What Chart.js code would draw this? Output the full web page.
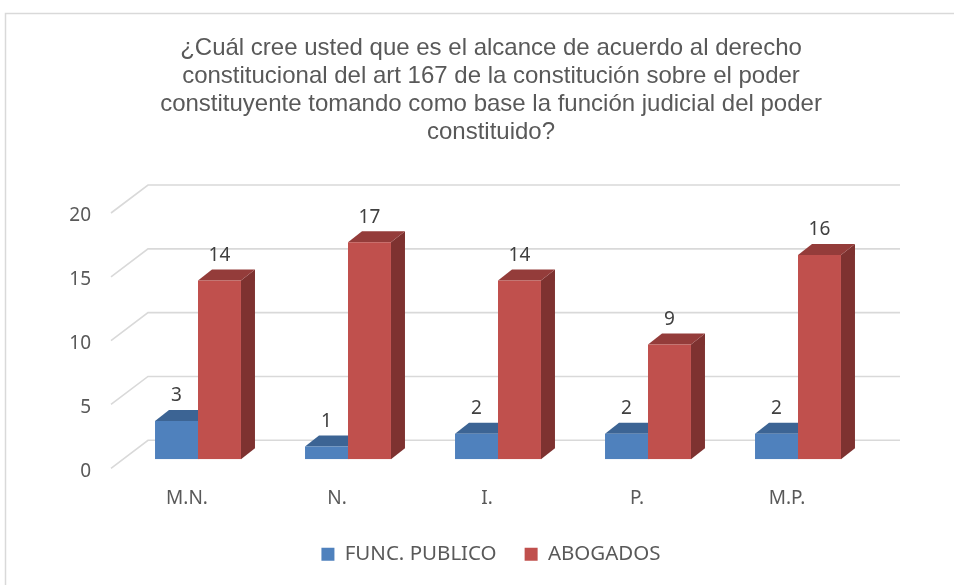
<!DOCTYPE html>
<html lang="es">
<head>
    <meta charset="UTF-8">
    <title>Alcance del art 167</title>
    <script src="https://cdn.jsdelivr.net/npm/chart.js@4"></script>
    <style>
        body { margin: 0; background: #fff; overflow: hidden; }
        #wrap { position: relative; width: 954px; height: 585px; }
    </style>
</head>
<body>
    <div id="wrap">
        <canvas id="chart"></canvas>
    </div>

    <script>
// datos
const categories = ['M.N.', 'N.', 'I.', 'P.', 'M.P.'];
const funcPublico = [3, 1, 2, 2, 2];
const abogados = [14, 17, 14, 9, 16];
const yTicks = [0, 5, 10, 15, 20];
const titleLines = [
    '¿Cuál cree usted que es el alcance de acuerdo al derecho',
    'constitucional del art 167 de la constitución sobre el poder',
    'constituyente tomando como base la función judicial del poder',
    'constituido?'
];

// colores de las caras (frente, arriba, lado)
const faces = [
    { front: '#4F81BD', top: '#3C6494', side: '#2F4F77' },
    { front: '#C0504D', top: '#943C3A', side: '#7E3230' }
];

const DX = 14, DY = 11;   // profundidad de las barras

// rejilla de fondo y caras laterales / superiores
const pseudo3d = {
    id: 'pseudo3d',
    beforeDraw(chart) {
        const ctx = chart.ctx;
        ctx.save();
        ctx.strokeStyle = '#D9D9D9';
        ctx.lineWidth = 1.5;
        ctx.strokeRect(5.5, 13.5, 960, 600);
        ctx.restore();
    },
    beforeDatasetsDraw(chart) {
        const ctx = chart.ctx;
        const area = chart.chartArea;
        const ys = chart.scales.y;
        ctx.save();
        ctx.strokeStyle = '#D9D9D9';
        ctx.lineWidth = 1.6;
        yTicks.forEach(v => {
            const y = ys.getPixelForValue(v);
            ctx.beginPath();
            ctx.moveTo(area.left - 12, y + 9);
            ctx.lineTo(area.left + 25, y - 19);
            ctx.lineTo(area.right + 27, y - 19);
            ctx.stroke();
        });
        chart.data.datasets.forEach((ds, i) => {
            const meta = chart.getDatasetMeta(i);
            meta.data.forEach(bar => {
                const p = bar.getProps(['x', 'y', 'base', 'width'], true);
                const l = p.x - p.width / 2, r = p.x + p.width / 2;
                ctx.fillStyle = faces[i].side;
                ctx.beginPath();
                ctx.moveTo(r, p.y);
                ctx.lineTo(r + DX, p.y - DY);
                ctx.lineTo(r + DX, p.base - DY);
                ctx.lineTo(r, p.base);
                ctx.closePath();
                ctx.fill();
                ctx.fillStyle = faces[i].top;
                ctx.beginPath();
                ctx.moveTo(l, p.y);
                ctx.lineTo(l + DX, p.y - DY);
                ctx.lineTo(r + DX, p.y - DY);
                ctx.lineTo(r, p.y);
                ctx.closePath();
                ctx.fill();
            });
        });
        ctx.restore();
    },
    afterDatasetsDraw(chart) {
        const ctx = chart.ctx;
        ctx.save();
        ctx.fillStyle = '#404040';
        ctx.font = '19px "Noto Sans"';
        ctx.textAlign = 'center';
        ctx.textBaseline = 'middle';
        chart.data.datasets.forEach((ds, i) => {
            chart.getDatasetMeta(i).data.forEach((bar, j) => {
                const p = bar.getProps(['x', 'y'], true);
                ctx.fillText(ds.data[j], p.x, p.y - 25);
            });
        });
        ctx.restore();
    }
};

new Chart(document.getElementById('chart'), {
    type: 'bar',
    data: {
        labels: categories,
        datasets: [
            { label: 'FUNC. PUBLICO', data: funcPublico, backgroundColor: faces[0].front },
            { label: 'ABOGADOS', data: abogados, backgroundColor: faces[1].front }
        ]
    },
    options: {
        responsive: true,
        maintainAspectRatio: false,
        animation: false,
        categoryPercentage: 0.573,
        barPercentage: 1,
        layout: { padding: { left: 28, right: 0, top: 0, bottom: 10.6 } },
        plugins: {
            title: {
                display: true,
                text: titleLines,
                color: '#595959',
                font: { family: '"Liberation Sans", Arial', size: 24, weight: 'normal', lineHeight: 28 / 24 },
                padding: { top: 34, bottom: 58 }
            },
            legend: {
                position: 'bottom',
                labels: {
                    color: '#595959',
                    font: { family: '"Noto Sans"', size: 20.5 },
                    boxWidth: 13,
                    boxHeight: 13,
                    padding: 28
                }
            },
            tooltip: { enabled: false }
        },
        scales: {
            x: {
                grid: { display: false, drawTicks: false },
                border: { display: false },
                ticks: {
                    color: '#595959',
                    font: { family: '"Noto Sans"', size: 19 },
                    padding: 28,
                    labelOffset: -11
                },
                afterFit(s) { s.height = 56.6; }
            },
            y: {
                min: 0,
                max: 20,
                grid: { display: false, drawTicks: false },
                border: { display: false },
                ticks: {
                    stepSize: 5,
                    color: '#595959',
                    font: { family: '"Noto Sans"', size: 19 },
                    padding: 32,
                    labelOffset: 12
                },
                afterFit(s) { s.width = 95; }
            },
            y2: {
                position: 'right',
                display: true,
                grid: { display: false, drawTicks: false },
                border: { display: false },
                ticks: { display: false },
                afterFit(s) { s.width = 81; }
            }
        }
    },
    plugins: [pseudo3d]
});
    </script>
</body>
</html>
